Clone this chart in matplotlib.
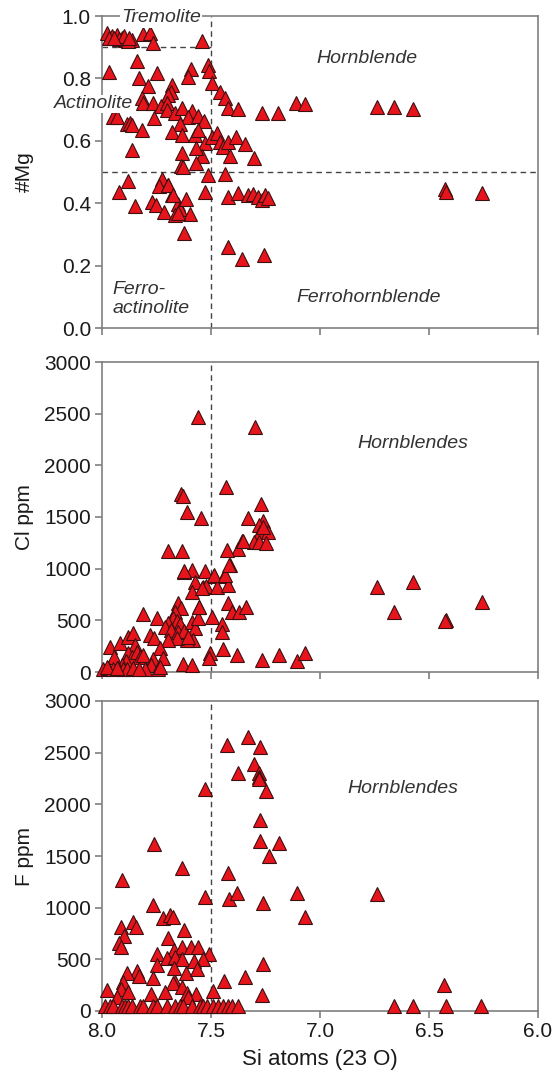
import matplotlib
matplotlib.use("Agg")
import matplotlib.pyplot as plt
from matplotlib.ticker import MultipleLocator

plt.rcParams['font.family'] = ['Liberation Sans', 'DejaVu Sans']

# ---------------- data ----------------
# Panel 1: Si (apfu) vs #Mg
si_mg = [7.978, 7.955, 7.932, 7.909, 7.894, 7.864, 7.81, 7.78, 7.765, 7.543,
         7.97, 7.92, 7.88, 7.90, 7.945, 7.875,
         7.841, 7.968, 7.749, 7.830, 7.788, 7.592, 7.604, 7.512, 7.508, 7.497,
         7.459, 7.436, 7.423, 7.378, 7.267, 7.191, 7.110, 7.069, 6.740, 6.661, 6.575,
         7.677, 7.683, 7.699, 7.815, 7.811, 7.765, 7.729, 7.703, 7.703, 7.665,
         7.634, 7.589, 7.607, 7.558, 7.531, 7.948, 7.933, 7.887, 7.872, 7.861,
         7.818, 7.760, 7.642, 7.677, 7.632, 7.573, 7.561, 7.528, 7.494, 7.474,
         7.459, 7.444, 7.421, 7.385, 7.344, 7.301, 7.413, 7.540, 7.570, 7.634,
         7.570, 7.638, 7.630, 7.861, 7.512, 7.436,
         7.882, 7.922, 7.849, 7.726, 7.739, 7.699, 7.677, 7.772, 7.754, 7.714,
         7.653, 7.642, 7.616, 7.596, 7.665, 7.528, 7.423, 7.375, 7.329, 7.306,
         7.283, 7.267, 7.252, 7.237, 7.624, 7.421, 7.359, 7.257, 6.427, 6.424, 6.258,
         7.696, 7.673, 7.65]
mg = [0.945, 0.936, 0.939, 0.928, 0.923, 0.923, 0.941, 0.945, 0.913, 0.921,
      0.930, 0.925, 0.920, 0.935, 0.930, 0.928,
      0.857, 0.822, 0.816, 0.800, 0.776, 0.829, 0.805, 0.843, 0.825, 0.786,
      0.757, 0.736, 0.704, 0.701, 0.688, 0.688, 0.722, 0.718, 0.709, 0.709, 0.701,
      0.779, 0.757, 0.747, 0.736, 0.720, 0.722, 0.712, 0.720, 0.699, 0.688,
      0.704, 0.697, 0.677, 0.679, 0.664, 0.675, 0.675, 0.654, 0.656, 0.651,
      0.635, 0.672, 0.654, 0.629, 0.619, 0.619, 0.635, 0.592, 0.613, 0.624,
      0.597, 0.579, 0.597, 0.611, 0.590, 0.544, 0.551, 0.551, 0.576, 0.562,
      0.530, 0.519, 0.515, 0.571, 0.490, 0.494,
      0.472, 0.437, 0.391, 0.477, 0.455, 0.458, 0.426, 0.405, 0.394, 0.373,
      0.397, 0.380, 0.412, 0.365, 0.362, 0.437, 0.421, 0.432, 0.426, 0.429,
      0.421, 0.410, 0.426, 0.416, 0.306, 0.259, 0.220, 0.234, 0.444, 0.437, 0.434,
      0.458, 0.426, 0.367]

# Panel 2: Si vs Cl (ppm)
si_cl = [7.558, 7.298, 7.433, 7.638, 7.630, 7.609, 7.544, 7.329, 7.272,
         7.260, 7.278, 7.275, 7.237, 7.301, 7.278, 7.249, 7.263,
         7.356, 7.375, 7.425, 7.696, 7.632, 7.413, 7.623, 7.589, 7.528, 7.486,
         7.439, 7.573, 7.589, 7.535, 7.524, 7.474, 7.421, 7.554, 7.423, 7.405,
         7.372, 7.341, 7.494, 7.451, 7.451, 7.444, 7.382, 7.505, 7.508, 7.267,
         7.187, 7.107, 7.069, 7.630, 7.586,
         6.740, 6.572, 6.659, 6.422, 6.425, 6.258,
         7.811, 7.749, 7.650, 7.638, 7.665, 7.673, 7.657, 7.642, 7.696, 7.711,
         7.683, 7.650, 7.622, 7.586, 7.573, 7.558, 7.555, 7.581, 7.611, 7.657,
         7.699, 7.604, 7.780, 7.760,
         7.963, 7.917, 7.879, 7.856, 7.849, 7.734, 7.719, 7.943, 7.879, 7.864,
         7.841, 7.826, 7.811, 7.891, 7.910, 7.765, 7.775, 7.803, 7.745, 7.734,
         7.994, 7.971, 7.948, 7.925, 7.902, 7.887, 7.856, 7.978, 7.93, 7.83,
         7.485, 7.436, 7.543, 7.622, 7.416, 7.352]
cl = [2471, 2368, 1787, 1722, 1703, 1551, 1487, 1487, 1626,
      1464, 1423, 1358, 1358, 1255, 1255, 1245, 1406,
      1271, 1190, 1181, 1174, 1174, 1035, 971, 987, 977, 932,
      932, 874, 777, 826, 832, 820, 842, 632, 665, 578,
      578, 632, 535, 464, 390, 220, 165, 181, 133, 116,
      165, 109, 187, 77, 68,
      826, 868, 578, 503, 497, 680,
      558, 519, 665, 616, 584, 519, 497, 464, 477, 438,
      406, 390, 400, 487, 423, 519, 626, 310, 310, 326,
      310, 342, 358, 326,
      245, 284, 342, 374, 261, 229, 133, 148, 181, 148,
      197, 148, 165, 109, 68, 123, 68, 30, 30, 51,
      30, 35, 25, 40, 30, 25, 35, 45, 40, 30,
      939, 939, 810, 977, 1035, 1271]

# Panel 3: Si vs F (ppm)
si_f = [7.329, 7.428, 7.275, 7.303, 7.278, 7.278, 7.278, 7.248, 7.528, 7.375,
        7.275, 7.275, 7.188, 7.233, 7.761, 7.632, 7.423, 7.910, 7.528, 7.416,
        7.382, 7.107, 7.263, 7.069, 7.768, 7.722, 7.688, 7.673, 7.859, 7.844,
        7.914, 7.899, 7.920, 7.914, 7.622, 7.696, 7.670, 7.634, 7.593, 7.558,
        7.749, 7.508, 7.703, 7.665, 7.634, 7.538, 7.578, 7.746, 7.670, 7.615,
        7.563, 7.263, 7.838, 7.829, 7.768, 7.884, 7.905, 7.914, 7.882, 7.930,
        7.976, 7.665, 7.673, 7.634, 7.711, 7.777, 7.611, 7.569, 7.604, 7.440,
        7.344, 7.489, 7.267, 6.740, 6.430,
        7.986, 7.963, 7.948, 7.910, 7.894, 7.879, 7.864, 7.826, 7.811, 7.765,
        7.749, 7.703, 7.665, 7.642, 7.627, 7.589, 7.550, 7.535, 7.520, 7.489,
        7.466, 7.443, 7.420, 7.405, 7.375, 6.661, 6.575, 6.422, 6.261]
f = [2655, 2574, 2552, 2390, 2300, 2261, 2242, 2132, 2148, 2306,
     1848, 1648, 1623, 1500, 1616, 1387, 1339, 1268, 1106, 1081,
     1139, 1145, 1048, 907, 1026, 897, 929, 913, 864, 810,
     810, 726, 655, 616, 784, 703, 590, 616, 622, 616,
     552, 552, 510, 526, 500, 500, 487, 445, 419, 365,
     403, 455, 390, 339, 316, 365, 284, 210, 187, 138,
     203, 284, 268, 235, 187, 165, 177, 165, 138, 293,
     332, 197, 155, 1132, 252,
     45, 45, 45, 45, 45, 45, 45, 45, 45, 45,
     45, 45, 45, 45, 45, 45, 45, 45, 45, 45,
     45, 45, 45, 45, 45, 45, 45, 45, 45]

# ---------------- style ----------------
W, H = 557, 1079
fig = plt.figure(figsize=(W / 100, H / 100), dpi=100)
fig.patch.set_facecolor('white')

spine_c = '#7f7f7f'
text_c = '#1a1a1a'
mk = dict(marker='^', linestyle='none', ms=9.5, mfc='#e8141c', mec='#3a1010',
          mew=0.8, clip_on=False, zorder=3)
dash = dict(color='#444444', lw=1.0, linestyle=(0, (4, 3)), zorder=2)


def ax_at(left, top, right, bottom):
    return fig.add_axes([left / W, 1 - bottom / H, (right - left) / W, (bottom - top) / H])


def style(ax, ymax, ystep, showx):
    ax.set_xlim(8.0, 6.0)
    ax.set_ylim(0, ymax)
    ax.xaxis.set_major_locator(MultipleLocator(0.5))
    ax.yaxis.set_major_locator(MultipleLocator(ystep))
    for s in ax.spines.values():
        s.set_color(spine_c)
        s.set_linewidth(1.2)
    ax.tick_params(axis='both', direction='out', length=5, width=1.2, color=spine_c,
                   labelsize=15, labelcolor=text_c, pad=3)
    if not showx:
        ax.tick_params(axis='x', labelbottom=False)


LABEL_X = -0.157

# Panel 1
ax1 = ax_at(102, 16, 538, 328)
style(ax1, 1.0, 0.2, False)
ax1.yaxis.set_major_formatter(matplotlib.ticker.FormatStrFormatter('%.1f'))
ax1.plot(si_mg, mg, **mk)
ax1.axvline(7.5, **dash)
ax1.axhline(0.5, **dash)
ax1.plot([8.0, 7.5], [0.9, 0.9], **dash)
ax1.set_ylabel('#Mg', fontsize=15, color=text_c)
ax1.yaxis.set_label_coords(LABEL_X, 0.5)
it = dict(fontsize=14, style='italic', color='#333333', zorder=5)
ax1.text(7.73, 0.994, 'Tremolite', ha='center', va='center',
         bbox=dict(facecolor='white', edgecolor='none', pad=1), clip_on=False, **it)
ax1.text(8.04, 0.718, 'Actinolite', ha='center', va='center',
         bbox=dict(facecolor='white', edgecolor='none', pad=0.5), clip_on=False, **it)
ax1.text(6.786, 0.865, 'Hornblende', ha='center', va='center', **it)
ax1.text(6.775, 0.099, 'Ferrohornblende', ha='center', va='center', **it)
ax1.text(7.95, 0.093, 'Ferro-\nactinolite', ha='left', va='center', linespacing=1.2, **it)

# Panel 2
ax2 = ax_at(102, 362, 538, 672)
style(ax2, 3000, 500, False)
ax2.plot(si_cl, cl, **mk)
ax2.axvline(7.5, **dash)
ax2.set_ylabel('Cl ppm', fontsize=15, color=text_c)
ax2.yaxis.set_label_coords(LABEL_X, 0.5)
ax2.text(6.573, 2207, 'Hornblendes', ha='center', va='center', **it)

# Panel 3
ax3 = ax_at(102, 701, 538, 1011)
style(ax3, 3000, 500, True)
ax3.xaxis.set_major_formatter(matplotlib.ticker.FormatStrFormatter('%.1f'))
ax3.plot(si_f, f, **mk)
ax3.axvline(7.5, **dash)
ax3.set_ylabel('F ppm', fontsize=15, color=text_c)
ax3.yaxis.set_label_coords(LABEL_X, 0.5)
ax3.set_xlabel('Si atoms (23 O)', fontsize=16, color=text_c, labelpad=6)
ax3.text(6.62, 2149, 'Hornblendes', ha='center', va='center', **it)

fig.savefig('out.png', dpi=100, facecolor='white')
